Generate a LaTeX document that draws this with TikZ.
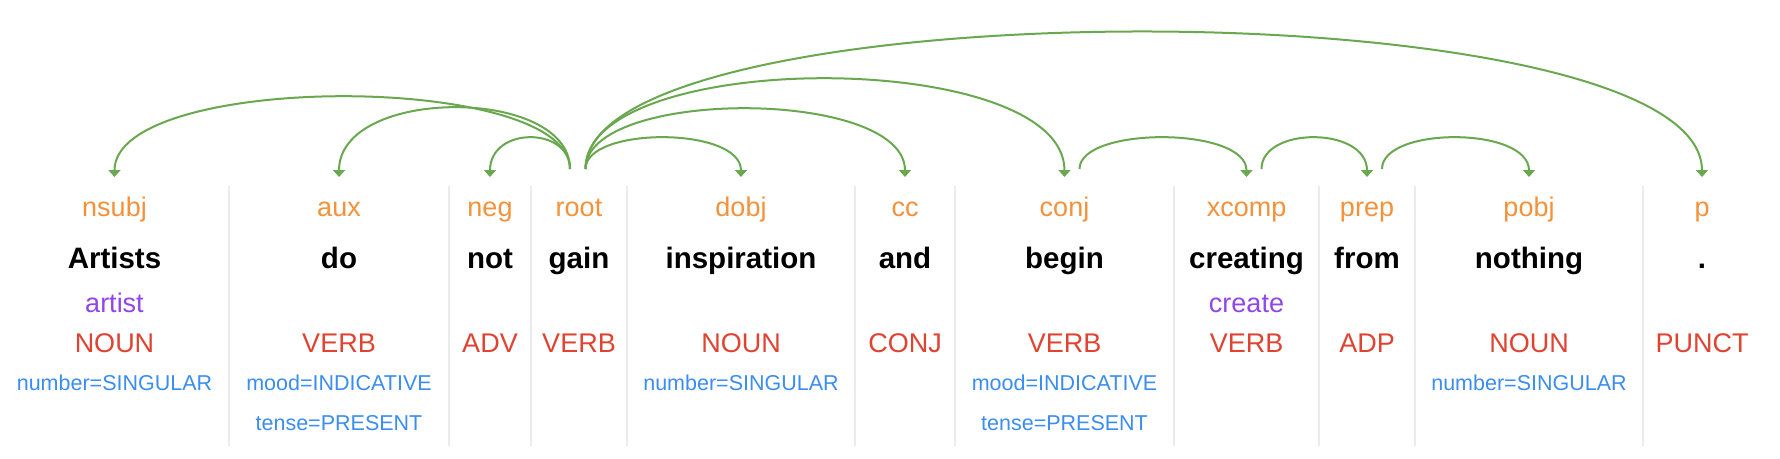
\documentclass[tikz,border=0pt]{standalone}
\usepackage{fontspec}
\setmainfont{Liberation Sans}
\usetikzlibrary{arrows.meta,calc}
\definecolor{deplab}{HTML}{F4923B}
\definecolor{lemc}{HTML}{9046E8}
\definecolor{posc}{HTML}{DF4331}
\definecolor{featc}{HTML}{3B8DF0}
\definecolor{arcc}{HTML}{6AA84F}
\definecolor{sepc}{HTML}{EBEBEB}
\newcommand\deparc[3]{\draw[arcline] (#1) .. controls ($(#1)+(0,-#3)$) and ($(#2)+(0,-#3-8)$) .. (#2);}
\begin{document}
\begin{tikzpicture}[x=1pt,y=-1pt,
  labtext/.style={anchor=base,inner sep=0pt,text=deplab,font=\fontsize{27}{27}\selectfont},
  wordtext/.style={anchor=base,inner sep=0pt,text=black,font=\fontsize{29.5}{30}\selectfont\bfseries},
  lemtext/.style={anchor=base,inner sep=0pt,text=lemc,font=\fontsize{27}{27}\selectfont},
  postext/.style={anchor=base,inner sep=0pt,text=posc,font=\fontsize{27}{27}\selectfont},
  feattext/.style={anchor=base,inner sep=0pt,text=featc,font=\fontsize{21.5}{22}\selectfont},
  sepline/.style={draw=sepc,line width=1.5pt},
  arcline/.style={draw=arcc,line width=2pt,-{Triangle[width=12pt,length=7pt]}}]
\fill[white] (0,0) rectangle (1780,458);
\useasboundingbox (0,0) rectangle (1780,458);
% separators
\foreach \sx in {229,449,531,627,855,955,1174,1319,1415,1643}
  \draw[sepline] (\sx,186) -- (\sx,446);
% column 1
\node[labtext] (l1) at (114.5,216) {nsubj};
\node[wordtext] (w1) at (114.5,268) {Artists};
\node[lemtext] (m1) at (114.5,312) {artist};
\node[postext] (p1) at (114.5,352.5) {NOUN};
\node[feattext] (f1a) at (114.5,390.5) {number=SINGULAR};
% column 2
\node[labtext] (l2) at (339,216) {aux};
\node[wordtext] (w2) at (339,268) {do};
\node[postext] (p2) at (339,352.5) {VERB};
\node[feattext] (f2a) at (339,390.5) {mood=INDICATIVE};
\node[feattext] (f2b) at (339,430.7) {tense=PRESENT};
% column 3
\node[labtext] (l3) at (490,216) {neg};
\node[wordtext] (w3) at (490,268) {not};
\node[postext] (p3) at (490,352.5) {ADV};
% column 4
\node[labtext] (l4) at (579,216) {root};
\node[wordtext] (w4) at (579,268) {gain};
\node[postext] (p4) at (579,352.5) {VERB};
% column 5
\node[labtext] (l5) at (741,216) {dobj};
\node[wordtext] (w5) at (741,268) {inspiration};
\node[postext] (p5) at (741,352.5) {NOUN};
\node[feattext] (f5a) at (741,390.5) {number=SINGULAR};
% column 6
\node[labtext] (l6) at (905,216) {cc};
\node[wordtext] (w6) at (905,268) {and};
\node[postext] (p6) at (905,352.5) {CONJ};
% column 7
\node[labtext] (l7) at (1064.5,216) {conj};
\node[wordtext] (w7) at (1064.5,268) {begin};
\node[postext] (p7) at (1064.5,352.5) {VERB};
\node[feattext] (f7a) at (1064.5,390.5) {mood=INDICATIVE};
\node[feattext] (f7b) at (1064.5,430.7) {tense=PRESENT};
% column 8
\node[labtext] (l8) at (1246.5,216) {xcomp};
\node[wordtext] (w8) at (1246.5,268) {creating};
\node[lemtext] (m8) at (1246.5,312) {create};
\node[postext] (p8) at (1246.5,352.5) {VERB};
% column 9
\node[labtext] (l9) at (1367,216) {prep};
\node[wordtext] (w9) at (1367,268) {from};
\node[postext] (p9) at (1367,352.5) {ADP};
% column 10
\node[labtext] (l10) at (1529,216) {pobj};
\node[wordtext] (w10) at (1529,268) {nothing};
\node[postext] (p10) at (1529,352.5) {NOUN};
\node[feattext] (f10a) at (1529,390.5) {number=SINGULAR};
% column 11
\node[labtext] (l11) at (1702,216) {p};
\node[wordtext] (w11) at (1702,268) {.};
\node[postext] (p11) at (1702,352.5) {PUNCT};
% arc targets
\foreach \i in {1,2,3,5,6,7,8,9,10,11}
  \path (l\i.base) ++(0,-39) coordinate (t\i);
% arc starts
\path (l4.base) ++(-9,-47) coordinate (gL);
\path (l4.base) ++(6.5,-47) coordinate (gR);
\path (l7.base) ++(15,-47) coordinate (bR);
\path (l8.base) ++(15,-47) coordinate (cR);
\path (l9.base) ++(15,-47) coordinate (fR);
% arcs
\deparc{gL}{t1}{97.3}
\deparc{gL}{t2}{82.7}
\deparc{gL}{t3}{42.7}
\deparc{gR}{t5}{42.7}
\deparc{gR}{t6}{81.3}
\deparc{gR}{t7}{121.3}
\deparc{gR}{t11}{183.6}
\deparc{bR}{t8}{42.7}
\deparc{cR}{t9}{42.7}
\deparc{fR}{t10}{42.7}
\end{tikzpicture}
\end{document}
